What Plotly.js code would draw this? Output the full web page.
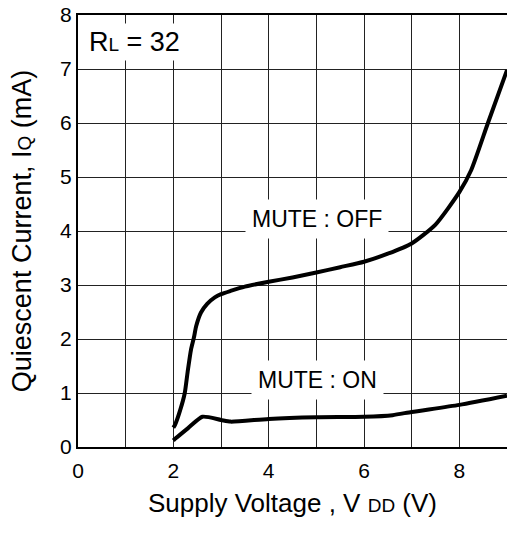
<!DOCTYPE html>
<html>
<head>
<meta charset="utf-8">
<script src="https://cdn.plot.ly/plotly-3.0.1.min.js"></script>
<style>html,body{margin:0;padding:0;background:#fff;}#chart{width:507px;height:539px;}</style>
</head>
<body>
<div id="chart"></div>
<script>
// Supply voltage (V) and quiescent current (mA)
const vddOff = [2.0, 2.04, 2.15, 2.24, 2.30, 2.37, 2.43, 2.48, 2.58, 2.71, 2.87, 3.0, 3.2, 3.5, 4.0, 4.5, 5.0, 5.5, 6.0, 6.5, 7.0, 7.5, 8.0, 8.25, 8.6, 9.0];
const iqOff  = [0.36, 0.42, 0.70, 1.0, 1.39, 1.8, 2.02, 2.24, 2.49, 2.65, 2.77, 2.83, 2.89, 2.97, 3.06, 3.14, 3.23, 3.33, 3.43, 3.58, 3.77, 4.12, 4.72, 5.13, 6.0, 6.98];
const vddOn  = [2.0, 2.05, 2.31, 2.61, 3.0, 3.2, 4.0, 5.0, 6.0, 6.6, 7.0, 8.0, 9.0];
const iqOn   = [0.12, 0.16, 0.35, 0.56, 0.5, 0.47, 0.52, 0.55, 0.56, 0.59, 0.65, 0.78, 0.95];
const xTickVals = [0, 1, 2, 3, 4, 5, 6, 7, 8, 9];
const xTickText = ['0', '', '2', '', '4', '', '6', '', '8', ''];
const yTickVals = [0, 1, 2, 3, 4, 5, 6, 7, 8];
const yTickText = ['0', '1', '2', '3', '4', '5', '6', '7', '8'];
const labelOff = 'MUTE : OFF';
const labelOn = 'MUTE : ON';
const labelLoad = 'R<span style="font-size:19px">L</span> = 32';

const font = 'Liberation Sans, Arial, sans-serif';
const traces = [
  {x: vddOff, y: iqOff, mode: 'lines', line: {color: '#000', width: 4, shape: 'spline', smoothing: 0.6}, hoverinfo: 'skip'},
  {x: vddOn, y: iqOn, mode: 'lines', line: {color: '#000', width: 4, shape: 'spline', smoothing: 0.6}, hoverinfo: 'skip'}
];
const layout = {
  width: 507, height: 539,
  margin: {l: 78, r: 0, t: 15, b: 92},
  paper_bgcolor: '#fff', plot_bgcolor: '#fff',
  showlegend: false,
  font: {family: font, color: '#000', size: 22},
  xaxis: {
    range: [0, 9], tickvals: xTickVals, ticktext: xTickText,
    showgrid: true, gridcolor: '#222', gridwidth: 1,
    showline: true, linecolor: '#000', linewidth: 2, mirror: true,
    ticks: 'outside', ticklen: 4, tickcolor: 'rgba(0,0,0,0)', zeroline: false, fixedrange: true,
    tickfont: {size: 21, family: font},
    title: {text: 'Supply Voltage , V <span style="font-size:19px">DD</span> (V)', font: {size: 26, family: font}, standoff: 13}
  },
  yaxis: {
    range: [0, 8], tickvals: yTickVals, ticktext: yTickText,
    showgrid: true, gridcolor: '#222', gridwidth: 1,
    showline: true, linecolor: '#000', linewidth: 2,
    ticks: '', zeroline: false, fixedrange: true,
    tickfont: {size: 21, family: font},
    title: {text: 'Quiescent Current, I<span style="font-size:19px">Q</span> (mA)', font: {size: 27, family: font}, standoff: 21}
  },
  annotations: [
    {x: 0.15, y: 7.5, xref: 'x', yref: 'y', xanchor: 'left', text: labelLoad, showarrow: false, bgcolor: '#fff', font: {size: 27, family: font}, borderpad: 3},
    {x: 5.02, y: 4.23, xref: 'x', yref: 'y', text: labelOff, showarrow: false, bgcolor: '#fff', font: {size: 23, family: font}, borderpad: 6},
    {x: 5.02, y: 1.24, xref: 'x', yref: 'y', text: labelOn, showarrow: false, bgcolor: '#fff', font: {size: 23, family: font}, borderpad: 6}
  ]
};
Plotly.newPlot('chart', traces, layout, {displayModeBar: false, staticPlot: true});
</script>
</body>
</html>
